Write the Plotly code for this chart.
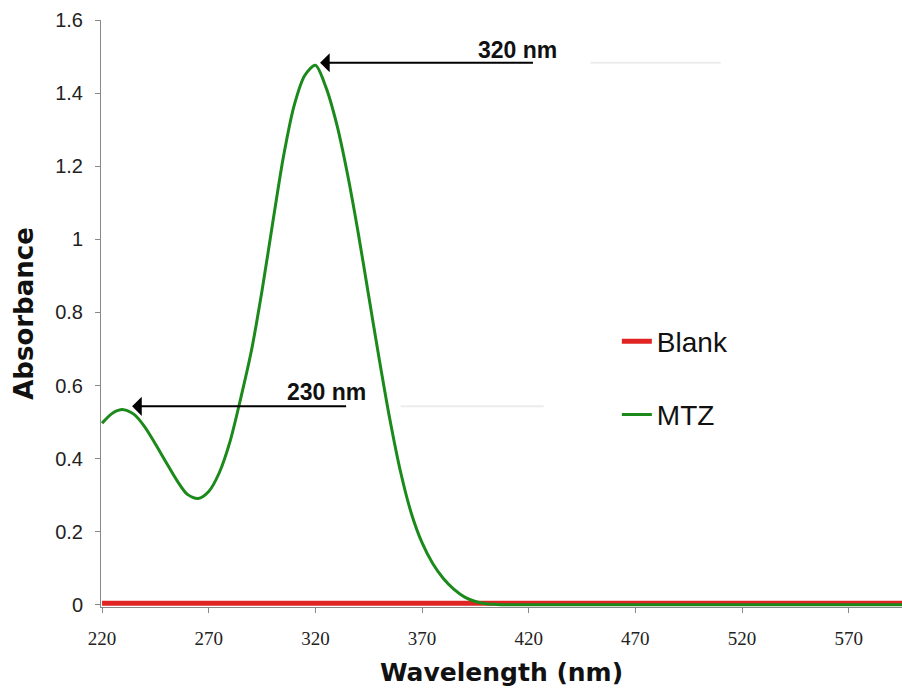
import plotly.graph_objects as go

# ---- data ----
wavelength = [220, 225, 230, 235, 240, 245, 250, 255, 260, 265,
              270, 275, 280, 285, 290, 295, 300, 305, 310, 315,
              320, 325, 330, 335, 340, 345, 350, 355, 360, 365,
              370, 375, 380, 385, 390, 395, 400, 405, 410,
              420, 430, 440, 450, 460, 470, 480, 490, 500, 510,
              520, 530, 540, 550, 560, 570, 580, 590, 600]

mtz = [0.497, 0.525, 0.534, 0.521, 0.487, 0.440, 0.390, 0.341, 0.302, 0.291,
       0.310, 0.362, 0.447, 0.565, 0.695, 0.860, 1.045, 1.225, 1.365, 1.448,
       1.476, 1.415, 1.315, 1.180, 1.020, 0.845, 0.670, 0.505, 0.362, 0.250,
       0.170, 0.113, 0.072, 0.042, 0.021, 0.009, 0.003, 0.001, 0.000,
       0.000, 0.000, 0.000, 0.000, 0.000, 0.000, 0.000, 0.000, 0.000, 0.000,
       0.000, 0.000, 0.000, 0.000, 0.000, 0.000, 0.000, 0.000, 0.000]

blank = [0.004, 0.004, 0.004, 0.004, 0.004, 0.004, 0.004, 0.004, 0.004, 0.004,
         0.004, 0.004, 0.004, 0.004, 0.004, 0.004, 0.004, 0.004, 0.004, 0.004,
         0.004, 0.004, 0.005, 0.004, 0.004, 0.004, 0.004, 0.004, 0.004, 0.004,
         0.004, 0.004, 0.004, 0.006, 0.004, 0.004, 0.004, 0.004, 0.004,
         0.004, 0.004, 0.004, 0.004, 0.004, 0.004, 0.004, 0.004, 0.004, 0.004,
         0.004, 0.004, 0.004, 0.004, 0.004, 0.004, 0.004, 0.004, 0.004]

x_ticks = [220, 270, 320, 370, 420, 470, 520, 570]
y_ticks = [0, 0.2, 0.4, 0.6, 0.8, 1.0, 1.2, 1.4, 1.6]
y_tick_text = ["0", "0.2", "0.4", "0.6", "0.8", "1", "1.2", "1.4", "1.6"]

peak_labels = ["320 nm", "230 nm"]
peak_x = [322.2, 234.1]        # arrow tips
peak_y = [1.483, 0.543]
arrow_tail_x = [422.7, 335.1]
label_x = [414.7, 325.0]
label_y = [1.519, 0.582]

SANS = "Liberation Sans, Arial, sans-serif"
SERIF = "Liberation Serif, Times New Roman, serif"

fig = go.Figure()

fig.add_trace(go.Scatter(
    x=wavelength, y=blank, name="Blank", mode="lines",
    line=dict(color="#e02424", width=5),
    legendgroup="blank",
))
fig.add_trace(go.Scatter(
    x=wavelength, y=mtz, name="MTZ", mode="lines",
    line=dict(color="#1b8a1b", width=3, shape="spline", smoothing=0.8),
    legendgroup="mtz",
))

annotations = []
for txt, px, py, tx, lx, ly in zip(peak_labels, peak_x, peak_y, arrow_tail_x, label_x, label_y):
    annotations.append(dict(
        x=px, y=py, ax=tx, ay=py, xref="x", yref="y", axref="x", ayref="y",
        text="", showarrow=True, arrowhead=1, arrowsize=1.6, arrowwidth=2,
        arrowcolor="#000000", standoff=0,
    ))
    annotations.append(dict(
        x=lx, y=ly, xref="x", yref="y", text=txt, showarrow=False,
        font=dict(family=SANS, size=23, color="#111111", weight="bold"),
    ))

# faint grey remnants to the right of the arrows
shapes = [
    dict(type="line", xref="x", yref="y", x0=449, x1=510, y0=peak_y[0], y1=peak_y[0],
         line=dict(color="#ececec", width=2), layer="below"),
    dict(type="line", xref="x", yref="y", x0=360, x1=427, y0=peak_y[1], y1=peak_y[1],
         line=dict(color="#ececec", width=2), layer="below"),
]

fig.update_layout(
    width=902, height=695,
    margin=dict(l=101, r=0, t=20, b=88, autoexpand=False),
    paper_bgcolor="white", plot_bgcolor="white",
    font=dict(family=SANS, color="#111111"),
    showlegend=True,
    legend=dict(
        x=0.644, y=0.495, xanchor="left", yanchor="top",
        font=dict(family=SANS, size=28, color="#111111"),
        bgcolor="rgba(0,0,0,0)", traceorder="grouped", tracegroupgap=34,
        itemwidth=30,
    ),
    annotations=annotations,
    shapes=shapes,
    xaxis=dict(
        range=[219.5, 595], tickmode="array", tickvals=x_ticks,
        ticktext=[str(v) for v in x_ticks],
        showline=True, linecolor="#888888", linewidth=1,
        ticks="outside", ticklen=5, tickcolor="#888888",
        showgrid=False, zeroline=False, automargin=False,
        ticklabelstandoff=9,
        tickfont=dict(family=SERIF, size=19, color="#222222"),
        title=dict(text="Wavelength (nm)", standoff=15,
                   font=dict(family="DejaVu Sans", size=25, color="#111111", weight="bold")),
    ),
    yaxis=dict(
        range=[-0.006, 1.6], tickmode="array", tickvals=y_ticks, ticktext=y_tick_text,
        showline=True, linecolor="#888888", linewidth=1,
        ticks="outside", ticklen=5, tickcolor="#888888",
        showgrid=False, zeroline=False, automargin=False,
        tickfont=dict(family=SANS, size=20, color="#222222"),
        ticklabelstandoff=8,
        title=dict(text="Absorbance", standoff=14,
                   font=dict(family="DejaVu Sans", size=26, color="#111111", weight="bold")),
    ),
)

fig.write_html(
    "out.html",
    config={"displayModeBar": False},
    post_script="document.body.style.margin='0';document.body.style.overflow='hidden';",
)
